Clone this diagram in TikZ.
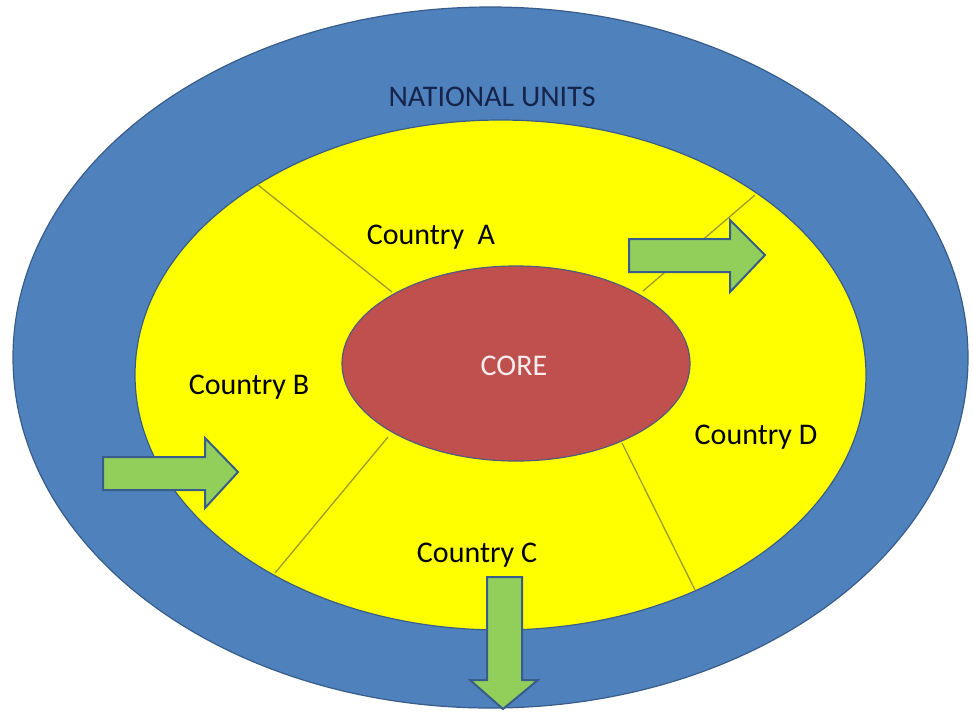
\documentclass[tikz,border=0pt]{standalone}
\usepackage{fontspec}
\setmainfont{Carlito}
\usetikzlibrary{shapes.geometric}
\definecolor{unitblue}{HTML}{4F81BD}
\definecolor{edgeblue}{HTML}{385D8A}
\definecolor{zoneyellow}{HTML}{FFFF00}
\definecolor{corered}{HTML}{C0504D}
\definecolor{flowgreen}{HTML}{92CF5A}
\definecolor{divider}{HTML}{9C9C2C}
\definecolor{navytext}{HTML}{15244A}
\tikzset{
  region/.style={ellipse, draw=edgeblue, line width=1.2pt, inner sep=0pt},
  label/.style={font=\fontsize{30}{32}\selectfont, inner sep=0pt},
  border/.style={draw=divider, line width=1.3pt},
  flow/.style={fill=flowgreen, draw=edgeblue, line width=2pt, line join=miter},
}
\begin{document}
\begin{tikzpicture}[x=1pt, y=-1pt]
  \useasboundingbox (0,0) rectangle (973,713);
  % nested regions
  \node[region, fill=unitblue, minimum width=955pt, minimum height=701pt] (units) at (490.5,357.5) {};
  \node[region, fill=zoneyellow, minimum width=731pt, minimum height=510pt] (zone) at (500.5,375) {};
  % borders between the country sectors
  \coordinate (ao) at (258,185);   \coordinate (ai) at (392,292);
  \coordinate (do) at (755,195);   \coordinate (di) at (643,291);
  \coordinate (bo) at (275,573);   \coordinate (bi) at (388,437);
  \coordinate (co) at (695,590);   \coordinate (ci) at (622,443);
  \draw[border] (ao) -- (ai);
  \draw[border] (do) -- (di);
  \draw[border] (bo) -- (bi);
  \draw[border] (co) -- (ci);
  % core
  \node[region, fill=corered, draw=edgeblue!80!corered, minimum width=348pt, minimum height=195pt] (core) at (516,363.5) {};
  % flow arrows
  \draw[flow] (629,239) -- (730,239) -- (730,220) -- (765,255) -- (730,292) -- (730,272) -- (629,272) -- cycle;
  \draw[flow] (103,457) -- (205,457) -- (205,438) -- (238,472) -- (205,508) -- (205,490) -- (103,490) -- cycle;
  \draw[flow] (487,577) -- (522,577) -- (522,680) -- (538,680) -- (503,709) -- (470,680) -- (487,680) -- cycle;
  % labels
  \node[label, text=navytext] (tunits) at (492,97) {NATIONAL UNITS};
  \node[label] (ta) at (431,237) {Country\ \ A};
  \node[label] (tb) at (249,387) {Country B};
  \node[label, text=white!90!corered] (tcore) at (514,366) {CORE};
  \node[label] (td) at (756,437) {Country D};
  \node[label] (tc) at (477,555) {Country C};
\end{tikzpicture}
\end{document}
